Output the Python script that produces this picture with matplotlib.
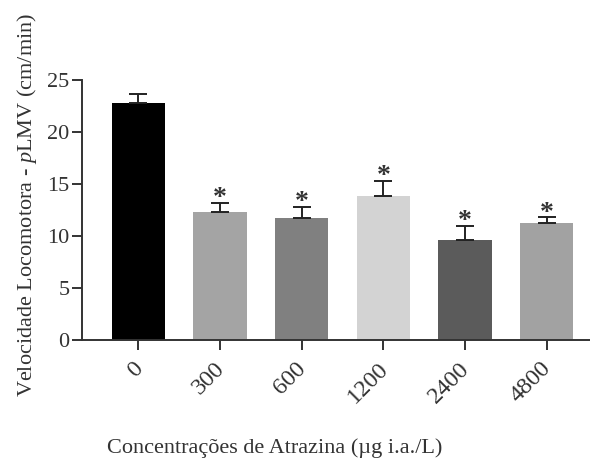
import matplotlib
matplotlib.use("Agg")
import matplotlib.pyplot as plt
from matplotlib.transforms import ScaledTranslation

# concentrações de atrazina e velocidade média (+ erro padrão)
concentracoes = ["0", "300", "600", "1200", "2400", "4800"]
velocidade = [22.8, 12.3, 11.7, 13.85, 9.6, 11.25]
erro = [0.85, 0.9, 1.1, 1.45, 1.4, 0.55]
significativo = [False, True, True, True, True, True]
cores = ["#000000", "#a4a4a4", "#808080", "#d3d3d3", "#5b5b5b", "#a2a2a2"]

plt.rcParams["font.family"] = ["Liberation Serif", "DejaVu Serif"]
plt.rcParams["mathtext.fontset"] = "custom"
plt.rcParams["mathtext.rm"] = "Liberation Serif"
plt.rcParams["mathtext.it"] = "Liberation Serif:italic"

fig = plt.figure(figsize=(5.9, 4.62), dpi=100)
ax = fig.add_axes([82 / 590, 1 - 340 / 462, 508 / 590, 260 / 462])

x = list(range(len(concentracoes)))
ax.bar(x, velocidade, width=0.65, color=cores, zorder=2)
ax.errorbar(x, velocidade, yerr=[[0] * len(erro), erro], fmt="none",
            ecolor="#222222", elinewidth=1.4, capsize=6.5, capthick=1.4, zorder=3)

for i, (v, e, s) in enumerate(zip(velocidade, erro, significativo)):
    if s:
        ax.text(i, v + e + 0.4, "*", ha="center", va="center",
                fontsize=20, fontweight="bold", color="#333333")

ax.set_xlim(-0.69, 5.53)
ax.set_ylim(0, 25)
ax.set_yticks([0, 5, 10, 15, 20, 25])
ax.set_xticks(x)
ax.set_xticklabels(concentracoes, rotation=45, ha="right", rotation_mode="anchor")

for lado in ["top", "right"]:
    ax.spines[lado].set_visible(False)
for lado in ["left", "bottom"]:
    ax.spines[lado].set_linewidth(1.4)
    ax.spines[lado].set_color("#333333")

ax.tick_params(axis="both", labelsize=16, width=1.4, length=7, color="#333333",
               labelcolor="#333333")
ax.tick_params(axis="x", pad=6, labelsize=17.5)
ax.tick_params(axis="y", pad=2)

# desloca os rótulos girados um pouco para a esquerda (depois de tick_params)
desloc = ScaledTranslation(-6 / 100, 0, fig.dpi_scale_trans)
for rotulo in ax.get_xticklabels():
    rotulo.set_transform(rotulo.get_transform() + desloc)

fig.text(27 / 590, 1 - 205 / 462, "Velocidade Locomotora - $\\it{p}$LMV (cm/min)",
         rotation=90, ha="center", va="center", fontsize=16, color="#333333")
fig.text(275 / 590, 1 - 448 / 462, "Concentrações de Atrazina (µg i.a./L)",
         ha="center", va="center", fontsize=16, color="#333333")

fig.savefig("out.png", dpi=100)
